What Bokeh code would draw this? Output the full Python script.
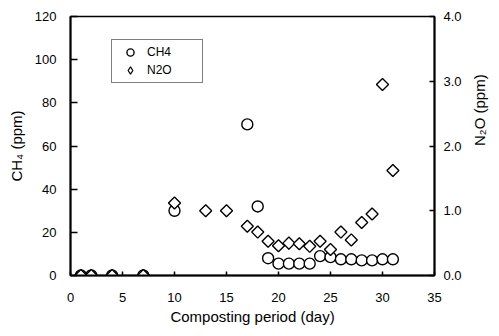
import math
from bokeh.plotting import figure
from bokeh.models import (Range1d, LinearAxis, FixedTicker, PrintfTickFormatter,
                          Legend, LegendItem)
from bokeh.embed import file_html
from bokeh.resources import INLINE

# ---- data ----
ch4_days = [1, 2, 4, 7, 10, 17, 18, 19, 20, 21, 22, 23, 24, 25, 26, 27, 28, 29, 30, 31]
ch4_ppm = [0, 0, 0, 0, 30, 70, 32, 8, 5.5, 5.5, 5.5, 5.5, 9, 8.5, 7.5, 7.5, 7, 7, 7.5, 7.5]

n2o_days = [1, 2, 4, 7, 10, 13, 15, 17, 18, 19, 20, 21, 22, 23, 24, 25, 26, 27, 28, 29, 30, 31]
n2o_ppm = [0, 0, 0, 0, 1.12, 1.0, 1.0, 0.76, 0.67, 0.53, 0.46, 0.5, 0.49, 0.45, 0.53, 0.4,
           0.67, 0.55, 0.82, 0.95, 2.95, 1.62]

x_ticks = [0, 5, 10, 15, 20, 25, 30, 35]
ch4_ticks = [0, 20, 40, 60, 80, 100, 120]
n2o_ticks = [0, 1, 2, 3, 4]
legend_labels = ["CH4", "N2O"]

x_label = "Composting period (day)"
ch4_label = "CH\u2084 (ppm)"
n2o_label = "N\u2082O (ppm)"

FONT = "Liberation Sans"

p = figure(width=499, height=336, output_backend="svg", toolbar_location=None,
           x_range=Range1d(0, 35), y_range=Range1d(0, 120),
           min_border_left=70, min_border_right=57, min_border_top=16, min_border_bottom=61)
p.extra_y_ranges = {"n2o": Range1d(0, 4)}
p.xgrid.visible = False
p.ygrid.visible = False
p.outline_line_color = "black"
p.outline_line_width = 1.5
p.background_fill_color = "white"
p.border_fill_color = "white"

r_ch4 = p.scatter(ch4_days, ch4_ppm, marker="circle", size=11,
                  line_color="black", fill_color="white", line_width=1.4)
# legend key for N2O (legend does not rotate markers): a diamond drawn beneath
# the rotated squares, fully hidden by them in the plot area
r_n2o_key = p.scatter(n2o_days, n2o_ppm, marker="diamond", size=7,
                      line_color="black", fill_color="white", line_width=1.2,
                      y_range_name="n2o")
r_n2o = p.scatter(n2o_days, n2o_ppm, marker="square", angle=math.pi / 4, size=8.5,
                  line_color="black", fill_color="white", line_width=1.4,
                  y_range_name="n2o")

ax_r = LinearAxis(y_range_name="n2o")
p.add_layout(ax_r, "right")

xa = p.xaxis[0]
yl = p.yaxis[0]

xa.ticker = FixedTicker(ticks=x_ticks)
yl.ticker = FixedTicker(ticks=ch4_ticks)
ax_r.ticker = FixedTicker(ticks=n2o_ticks)
ax_r.formatter = PrintfTickFormatter(format="%.1f")

xa.axis_label = x_label
yl.axis_label = ch4_label
ax_r.axis_label = n2o_label

for ax in (xa, yl, ax_r):
    ax.axis_line_color = "black"
    ax.axis_line_width = 2
    ax.major_tick_line_color = "black"
    ax.major_tick_line_width = 1.5
    ax.major_tick_out = 0
    ax.minor_tick_in = 0
    ax.minor_tick_out = 0
    ax.major_label_text_font = FONT
    ax.major_label_text_font_size = "13px"
    ax.major_label_text_color = "black"
    ax.axis_label_text_font = FONT
    ax.axis_label_text_font_size = "15px"
    ax.axis_label_text_font_style = "normal"
    ax.axis_label_text_color = "black"

xa.major_tick_in = 4
xa.major_label_standoff = 17
xa.axis_label_standoff = 3

yl.major_tick_in = 7
yl.major_label_standoff = 14
yl.axis_label_standoff = 7

ax_r.major_tick_in = 5
ax_r.major_label_standoff = 9
ax_r.axis_label_standoff = 15
if "axis_label_orientation" in ax_r.properties():
    ax_r.axis_label_orientation = math.pi / 2

legend = Legend(items=[LegendItem(label=legend_labels[0], renderers=[r_ch4]),
                       LegendItem(label=legend_labels[1], renderers=[r_n2o_key])],
                location=(41, 192), padding=3, spacing=-3, margin=0,
                glyph_width=30, glyph_height=18, label_height=18,
                label_standoff=2, label_width=52,
                label_text_font=FONT, label_text_font_size="12px",
                label_text_color="black",
                border_line_color="black", border_line_width=1,
                background_fill_color="white", background_fill_alpha=1)
p.add_layout(legend)

open("out.html", "w").write(file_html(p, INLINE))
